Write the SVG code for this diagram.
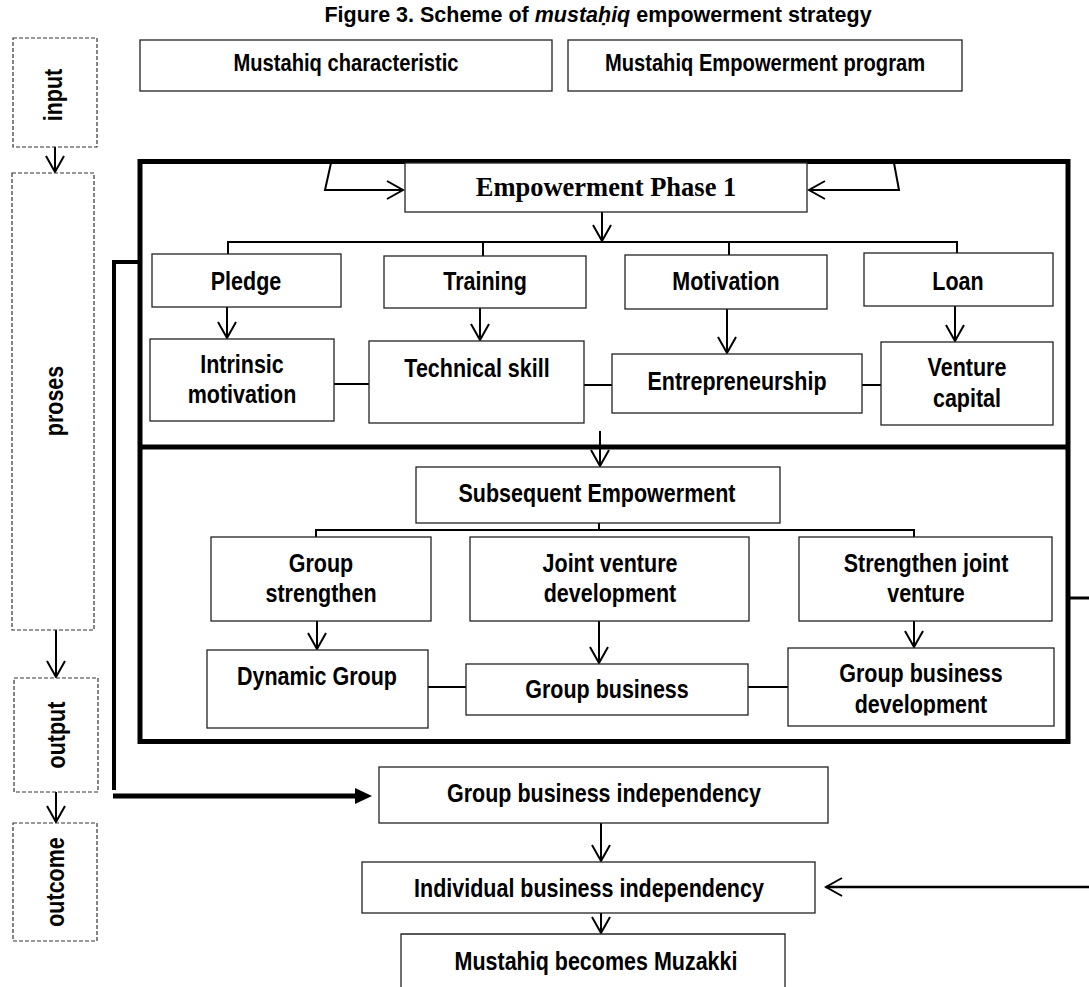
<svg xmlns="http://www.w3.org/2000/svg" width="1089" height="987" viewBox="0 0 1089 987">
<style>
.bx{fill:#fff;stroke:#222;stroke-width:1.3}
.ds{fill:#fff;stroke:#333;stroke-width:1.2;stroke-dasharray:4 2}
.t{font-family:"Liberation Sans",Arial,sans-serif;font-weight:bold;font-size:25px;text-anchor:middle;fill:#000}
.ts{font-size:24px}
.c{fill:none;stroke:#000;stroke-width:2}
.a{fill:none;stroke:#000;stroke-width:2;marker-end:url(#v)}
.fr{fill:none;stroke:#000;stroke-width:5}
</style>
<defs>
<marker id="v" markerUnits="userSpaceOnUse" markerWidth="40" markerHeight="40" viewBox="-20 -20 40 40" refX="0" refY="0" orient="auto" overflow="visible">
<path d="M-16,-9 L0,0 L-16,9" fill="none" stroke="#000" stroke-width="2"/>
</marker>
<clipPath id="gbdclip"><rect x="788" y="648" width="266" height="67.5"/></clipPath>
</defs>
<rect width="1089" height="987" fill="#fff"/>

<text class="t" x="598" y="22" style="font-size:21.5px">Figure 3. Scheme of <tspan font-style="italic">mustaḥiq</tspan> empowerment strategy</text>

<g id="connectors">
<path class="a" d="M55,147 L55,172"/>
<path class="a" d="M56,630 L56,677"/>
<path class="a" d="M56,792 L56,822"/>
<path class="a" d="M331,163 L325,190 L403,190"/>
<path class="a" d="M894,163 L899,190 L809,190"/>
<path class="a" d="M602,212 L602,241"/>
<path class="c" d="M228,255 L228,242 L957,242 L957,253 M483,242 L483,256 M729,242 L729,255"/>
<path class="a" d="M227,307 L227,338"/>
<path class="a" d="M480,308 L480,340"/>
<path class="a" d="M727,309 L727,353"/>
<path class="a" d="M955,306 L955,341"/>
<path class="c" d="M334,384 L369,384 M584,385 L612,385 M862,385 L881,385"/>
<path class="a" d="M600,431 L600,466"/>
<path class="c" d="M599,523 L599,530 M316,537 L316,530 L914,530 L914,537"/>
<path class="a" d="M317,621 L317,649"/>
<path class="a" d="M599,621 L599,663"/>
<path class="a" d="M914,621 L914,647"/>
<path class="c" d="M428,687 L466,687 M748,687 L788,687"/>
<path d="M140,262 L114,262 L114,790" fill="none" stroke="#000" stroke-width="4"/>
<path d="M113,796 L357,796" fill="none" stroke="#000" stroke-width="5"/>
<polygon points="355,788 372,796 355,804" fill="#000"/>
<path d="M1068,598 L1089,598" fill="none" stroke="#000" stroke-width="3"/>
<path d="M1089,887 L826,887" fill="none" stroke="#000" stroke-width="2.5" marker-end="url(#v)"/>
<path class="a" d="M601,823 L601,861"/>
<path class="a" d="M601,913 L601,933"/>
</g>

<g id="input"><rect class="ds" x="13" y="38" width="84" height="109"/><text class="t" transform="translate(54,95) rotate(-90) scale(0.86,1)" y="8">input</text></g>
<g id="proses"><rect class="ds" x="12" y="173" width="82" height="457"/><text class="t" transform="translate(55,401) rotate(-90) scale(0.86,1)" y="8">proses</text></g>
<g id="output"><rect class="ds" x="14" y="678" width="84" height="114"/><text class="t" transform="translate(57,735) rotate(-90) scale(0.86,1)" y="8">output</text></g>
<g id="outcome"><rect class="ds" x="13" y="823" width="84" height="118"/><text class="t" transform="translate(56,882) rotate(-90) scale(0.86,1)" y="8">outcome</text></g>

<g id="characteristic"><rect class="bx" x="140" y="40" width="412" height="51"/><text class="t ts" transform="translate(346,71) scale(0.84,1)">Mustahiq characteristic</text></g>
<g id="program"><rect class="bx" x="568" y="40" width="394" height="51"/><text class="t ts" transform="translate(765,71) scale(0.84,1)">Mustahiq Empowerment program</text></g>

<g id="frame"><rect class="fr" x="140" y="161.5" width="928" height="580"/><line class="fr" x1="140" y1="447" x2="1068" y2="447"/></g>

<g id="phase1"><rect class="bx" x="405" y="163" width="402" height="49"/><text x="606" y="196" text-anchor="middle" font-family="'Liberation Serif','Times New Roman',serif" font-weight="bold" font-size="26.5">Empowerment Phase 1</text></g>

<g id="pledge"><rect class="bx" x="152" y="254" width="189" height="53"/><text class="t" transform="translate(246,290) scale(0.86,1)">Pledge</text></g>
<g id="training"><rect class="bx" x="384" y="256" width="202" height="52"/><text class="t" transform="translate(485,290) scale(0.86,1)">Training</text></g>
<g id="motivation"><rect class="bx" x="625" y="255" width="202" height="54"/><text class="t" transform="translate(726,290) scale(0.86,1)">Motivation</text></g>
<g id="loan"><rect class="bx" x="864" y="253" width="189" height="53"/><text class="t" transform="translate(958,290) scale(0.86,1)">Loan</text></g>

<g id="intrinsic"><rect class="bx" x="150" y="339" width="184" height="82"/><text class="t" transform="translate(242,373) scale(0.86,1)">Intrinsic</text><text class="t" transform="translate(242,403) scale(0.86,1)">motivation</text></g>
<g id="technical"><rect class="bx" x="369" y="341" width="215" height="82"/><text class="t" transform="translate(477,377) scale(0.86,1)">Technical skill</text></g>
<g id="entrepreneurship"><rect class="bx" x="612" y="354" width="250" height="59"/><text class="t" transform="translate(737,390) scale(0.86,1)">Entrepreneurship</text></g>
<g id="venture"><rect class="bx" x="881" y="342" width="172" height="83"/><text class="t" transform="translate(967,376) scale(0.86,1)">Venture</text><text class="t" transform="translate(967,407) scale(0.86,1)">capital</text></g>

<g id="subsequent"><rect class="bx" x="416" y="467" width="364" height="56"/><text class="t" transform="translate(597,502) scale(0.86,1)">Subsequent Empowerment</text></g>

<g id="groupstrengthen"><rect class="bx" x="211" y="537" width="220" height="84"/><text class="t" transform="translate(321,572) scale(0.86,1)">Group</text><text class="t" transform="translate(321,602) scale(0.86,1)">strengthen</text></g>
<g id="jointventure"><rect class="bx" x="470" y="537" width="279" height="84"/><text class="t" transform="translate(610,572) scale(0.86,1)">Joint venture</text><text class="t" transform="translate(610,602) scale(0.86,1)">development</text></g>
<g id="strengthenjoint"><rect class="bx" x="799" y="537" width="253" height="84"/><text class="t" transform="translate(926,572) scale(0.86,1)">Strengthen joint</text><text class="t" transform="translate(926,602) scale(0.86,1)">venture</text></g>

<g id="dynamic"><rect class="bx" x="207" y="650" width="221" height="78"/><text class="t" transform="translate(317,685) scale(0.86,1)">Dynamic Group</text></g>
<g id="groupbusiness"><rect class="bx" x="466" y="664" width="282" height="51"/><text class="t" transform="translate(607,698) scale(0.86,1)">Group business</text></g>
<g id="gbd"><rect class="bx" x="788" y="648" width="266" height="78"/><g clip-path="url(#gbdclip)"><text class="t" transform="translate(921,682) scale(0.86,1)">Group business</text><text class="t" transform="translate(921,713) scale(0.86,1)">development</text></g></g>

<g id="gbi"><rect class="bx" x="379" y="767" width="449" height="56"/><text class="t" transform="translate(604,802) scale(0.86,1)">Group business independency</text></g>
<g id="ibi"><rect class="bx" x="362" y="862" width="453" height="51"/><text class="t" transform="translate(589,897) scale(0.86,1)">Individual business independency</text></g>
<g id="muzakki"><path class="bx" d="M401,990 L401,934 L785,934 L785,990"/><text class="t" transform="translate(596,970) scale(0.86,1)">Mustahiq becomes Muzakki</text></g>
</svg>
